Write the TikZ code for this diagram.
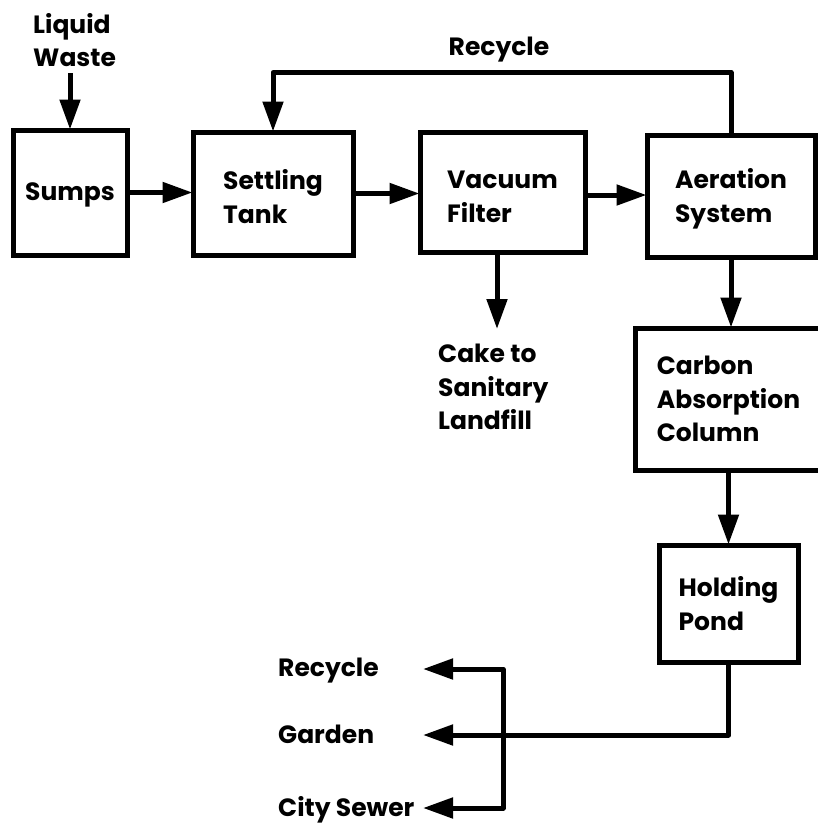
\documentclass[tikz,border=0pt]{standalone}
\usepackage{fontspec}
\setmainfont{Poppins}
\usetikzlibrary{arrows.meta}
\begin{document}
\begin{tikzpicture}[x=1pt,y=-1pt,
  box/.style={draw,line width=5pt,inner sep=0pt},
  lbl/.style={align=left,inner sep=0pt,font=\fontsize{25}{33.5}\selectfont\bfseries},
  flow/.style={line width=5pt,line join=round},
  arr/.style={flow,-{Triangle[length=30pt,width=20pt]},shorten >=-2pt}]
\useasboundingbox (0,0) rectangle (817,827);
% boxes
\node[box,minimum width=114pt,minimum height=125pt] (sumps) at (70,192.5) {};
\node[box,minimum width=160pt,minimum height=123pt] (settling) at (273,193.5) {};
\node[box,minimum width=165pt,minimum height=120pt] (vacuum) at (502.5,192) {};
\node[box,minimum width=168pt,minimum height=122pt] (aeration) at (731,196) {};
\node[box,minimum width=187pt,minimum height=142pt] (carbon) at (728.5,399) {};
\node[box,minimum width=139pt,minimum height=117pt] (holding) at (728.5,603.5) {};
% box texts
\node[lbl] (sumpst) at ([yshift=-2pt]sumps.center) {Sumps};
\node[lbl] (settlingt) at ([yshift=-3pt]settling.center) {Settling\\Tank};
\node[lbl] (vacuumt) at ([yshift=-5pt]vacuum.center) {Vacuum\\Filter};
\node[lbl] (aerationt) at ([yshift=-3pt]aeration.center) {Aeration\\System};
\node[lbl] (carbont) at (carbon.center) {Carbon\\Absorption\\Column};
\node[lbl] (holdingt) at (holding.center) {Holding\\Pond};
% labels
\node[lbl,anchor=west] (lw) at (33,40) {Liquid\\Waste};
\node[lbl] (rectop) at (499,50) {Recycle};
\node[lbl,anchor=west] (cake) at (438,387) {Cake to\\Sanitary\\Landfill};
\node[lbl,anchor=base west] (rec) at (278,676) {Recycle};
\node[lbl,anchor=base west] (garden) at (278,743) {Garden};
\node[lbl,anchor=base west] (sewer) at (278,816) {City Sewer};
% coordinates
\coordinate (lwin) at (70,73);
\coordinate (rtop) at (0,72.5);
\coordinate (caketip) at (497,327);
\coordinate (tr) at (425,669);
\coordinate (tg) at (425,735);
\coordinate (ts) at (425,808);
\coordinate (jg) at (503,735);
% connectors
\draw[arr] (sumps.north |- lwin) -- (sumps.north);
\draw[arr] (sumps.east) -- (sumps.east -| settling.west);
\draw[arr] (settling.east) -- (settling.east -| vacuum.west);
\draw[arr] ([yshift=-3pt]vacuum.east) -- ([yshift=-3pt]vacuum.east -| aeration.west);
\draw[arr] (aeration.north) -- (aeration.north |- rtop) -| (settling.north);
\draw[arr] (caketip |- vacuum.south) -- (caketip);
\draw[arr] (aeration.south) -- (aeration.south |- carbon.north);
\draw[arr] (carbon.south -| holding.north) -- (holding.north);
\draw[arr] (holding.south) |- (tg);
\draw[arr] (jg) |- (tr);
\draw[arr] (jg) |- (ts);
\end{tikzpicture}
\end{document}
